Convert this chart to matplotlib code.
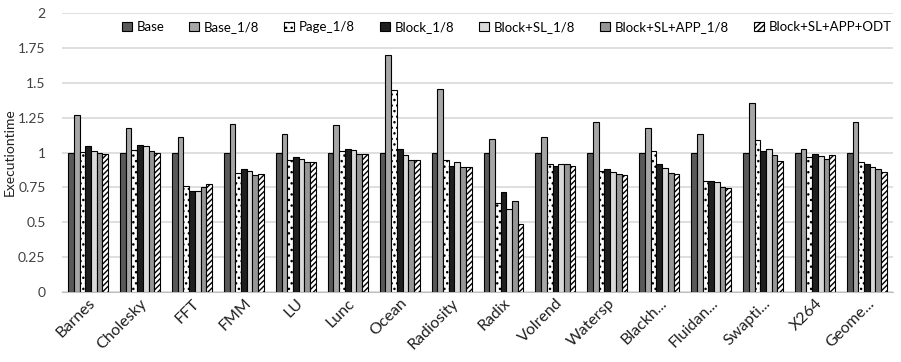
import matplotlib
matplotlib.use("Agg")
import matplotlib.pyplot as plt
import numpy as np

plt.rcParams['font.family'] = ['Lato', 'DejaVu Sans']
plt.rcParams['hatch.linewidth'] = 1.0

benchmarks = ["Barnes", "Cholesky", "FFT", "FMM", "LU", "Lunc", "Ocean", "Radiosity",
              "Radix", "Volrend", "Watersp", "Blackh...", "Fluidan...", "Swapti...",
              "X264", "Geome..."]

base = [1.0] * 16
base_1_8 = [1.27, 1.175, 1.113, 1.204, 1.132, 1.197, 1.698, 1.453,
            1.096, 1.111, 1.216, 1.175, 1.132, 1.355, 1.027, 1.216]
page_1_8 = [1.007, 1.022, 0.763, 0.852, 0.945, 1.012, 1.446, 0.945,
            0.638, 0.917, 0.866, 1.014, 0.796, 1.089, 0.967, 0.935]
block_1_8 = [1.05, 1.055, 0.727, 0.88, 0.967, 1.029, 1.027, 0.904,
             0.719, 0.904, 0.88, 0.919, 0.796, 1.014, 0.993, 0.917]
block_sl = [1.014, 1.05, 0.727, 0.866, 0.952, 1.019, 0.981, 0.935,
            0.593, 0.917, 0.859, 0.888, 0.789, 1.027, 0.974, 0.895]
block_sl_app = [0.998, 1.012, 0.755, 0.837, 0.93, 0.99, 0.95, 0.895,
                0.65, 0.917, 0.847, 0.854, 0.755, 0.981, 0.957, 0.88]
block_sl_app_odt = [0.988, 1.0, 0.777, 0.847, 0.93, 0.99, 0.95, 0.895,
                    0.485, 0.904, 0.84, 0.847, 0.748, 0.938, 0.981, 0.859]

series_names = ["Base", "Base_1/8", "Page_1/8", "Block_1/8", "Block+SL_1/8",
                "Block+SL+APP_1/8", "Block+SL+APP+ODT"]
series_values = [base, base_1_8, page_1_8, block_1_8, block_sl,
                 block_sl_app, block_sl_app_odt]
styles = [
    dict(color="#595959", hatch=None),
    dict(color="#a6a6a6", hatch=None),
    dict(color="#ffffff", hatch="..."),
    dict(color="#1f1f1f", hatch=None),
    dict(color="#d9d9d9", hatch=None),
    dict(color="#969696", hatch=None),
    dict(color="#ffffff", hatch="//////"),
]

fig = plt.figure(figsize=(9.01, 3.62), dpi=100)
ax = fig.add_axes([0.069, 0.193, 0.922, 0.771])

x = np.arange(len(benchmarks))
width = 0.11
for i, (name, vals, st) in enumerate(zip(series_names, series_values, styles)):
    offs = (i - 3) * width
    ax.bar(x + offs, vals, width, color=st["color"], hatch=st["hatch"],
           edgecolor="black", linewidth=0.8, label=name, zorder=3)

ax.set_xlim(-0.5, len(benchmarks) - 0.5)
ax.set_ylim(0, 2)
ax.set_yticks(np.arange(0, 2.01, 0.25))
ax.set_yticklabels(["0", "0.25", "0.5", "0.75", "1", "1.25", "1.5", "1.75", "2"])
ax.yaxis.grid(True, color="#d9d9d9", linewidth=1.2, zorder=0)
ax.set_axisbelow(True)
for s in ["top", "right", "left"]:
    ax.spines[s].set_visible(False)
ax.spines["bottom"].set_color("#bfbfbf")
ax.tick_params(axis="y", length=0, labelsize=10, pad=12, colors="#404040")
ax.tick_params(axis="x", length=0, labelsize=11.5, pad=3, colors="#202020")
ax.set_xticks(x)
ax.set_xticklabels(benchmarks, rotation=45, ha="right", rotation_mode="anchor")

fig.text(0.011, 0.58, "Executiontime", rotation=90, va="center", ha="center",
         fontsize=10, color="#202020")

leg = ax.legend(loc="upper center", bbox_to_anchor=(0.535, 1.0), ncol=7, frameon=False,
                fontsize=9.5, handlelength=0.75, handleheight=0.75,
                handletextpad=0.35, columnspacing=1.9, borderaxespad=0.2)

fig.savefig("out.png", dpi=100)
